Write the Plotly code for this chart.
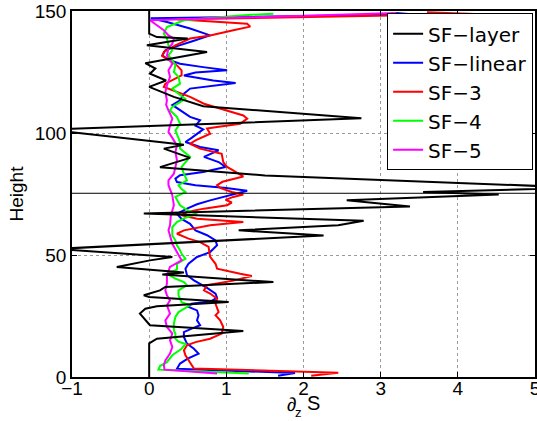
import plotly.graph_objects as go

# ---- data (x = d2S/dz2, y = Height) ----
layer_x = [0, 0, 0.1, 1.22, 0.01, -0.09, -0.12, -0.05, 0.1, 1.03, 0, -0.07, 0.14, 0.21, 1.61, 0.17, 0.45, -0.42,
           0.01, 0.3, -1.2, 2.26, 1.16, 2.45, 2.78, -0.07, 3.38, 2.56, 4.53, 3.55, 5.6, 1.5, 0.14, 0.53, 0.19, 0.45,
           -1.3, 2.75, 0.7, 0.32, 0.0, 0.22, 0.01, 0.08, -0.05, 0.75, -0.03, 0.5, 0.1, 0, 0]
layer_y = [0, 13.8, 15.7, 18.9, 21.2, 24.6, 26, 28, 29, 30.7, 32.8, 33.5, 35.5, 36.9, 38.9, 42, 42.8, 45.1,
           47.8, 49.2, 52.5, 58, 60.1, 62.2, 64, 67, 69.9, 72.4, 74.8, 75.8, 77.6, 82.6, 86, 89.8, 93.6, 95.2,
           101.4, 106, 111, 114.8, 118.9, 121.5, 124.3, 126.4, 128.6, 133.2, 136, 138.7, 139.3, 140.7, 150]

linear_x = [1.67, 1.89, 0.36, 0.4, 0.5, 0.64, 0.58, 0.49, 0.45, 0.45, 0.55, 0.66, 0.62, 0.64, 0.62, 0.51, 0.55,
            0.8, 0.88, 0.86, 0.75, 0.64, 0.58, 0.49, 0.47, 0.51, 0.62, 0.79, 0.88, 0.86, 0.75, 0.6, 0.53, 0.42,
            0.36, 0.49, 0.62, 0.79, 1.14, 1.27, 1.0, 0.6, 0.36, 0.34, 0.4, 0.7, 0.99, 0.9, 0.71, 0.9, 0.66, 0.47,
            0.55, 0.62, 0.7, 0.6, 0.66, 0.53, 0.4, 0.3, 0.4, 0.45, 0.53, 0.83, 1.12, 0.83, 0.45, 0.6, 1.01, 0.7,
            0.4, 0.25, 0.17, 0.21, 0.32, 0.55, 0.79, 0.53, 0.23, 0.02, 3.44, 3.2]
linear_y = [0.5, 1.6, 3.4, 5.5, 7.5, 9.6, 11.6, 13.7, 16.4, 18.4, 19.8, 21.2, 23.2, 25.3, 27.3, 28.7, 30,
            31, 32.5, 34.2, 36.5, 38.3, 39.6, 41.7, 44.4, 46.4, 49.2, 51.2, 54, 56, 58.1, 60.1, 62.8, 64.8,
            66.9, 69, 70.8, 72.4, 75.1, 76.3, 77.5, 78.6, 79.9, 81.3, 82.7, 84, 86.1, 88.1, 90.2, 92.9, 94.3, 96.3,
            98, 99.7, 101.5, 103, 105.2, 106.6, 109.3, 111.5, 113.4, 116.1, 118.2, 119.5, 120.5, 121.5, 123.6, 124.8, 125.7, 127,
            128.4, 130, 131.8, 133.9, 135.2, 137.5, 140, 142.8, 145.5, 147, 148.6, 149.2]

sf3_x = [2.1, 2.45, 0.58, 0.51, 0.47, 0.45, 0.49, 0.6, 0.79, 0.94, 0.96, 0.92, 0.86, 0.9, 0.88, 0.86, 0.88,
         0.79, 0.71, 0.75, 1.09, 1.33, 1.18, 0.88, 0.86, 0.79, 0.77, 0.66, 0.51, 0.36, 0.45, 0.79, 1.22, 0.62,
         0.42, 0.49, 0.71, 1.01, 1.07, 0.99, 1.09, 1.22, 1.07, 0.92, 0.88, 0.95, 1.22, 1.15, 1.01, 0.96, 0.94,
         0.66, 0.53, 0.6, 0.79, 0.75, 0.88, 1.18, 1.27, 1.22, 1.01, 0.71, 0.53, 0.36, 0.19, 0.21, 0.42, 0.42,
         0.36, 0.3, 0.17, 0.19, 0.34, 0.53, 0.79, 1.09, 1.31, 1.27, 0.66, 0.36, 4.22, 3.6]
sf3_y = [0.5, 1.7, 3.5, 6.8, 8.9, 10.9, 13, 14.3, 15.7, 17.8, 20.5, 23.2, 25.3, 26.6, 28.7, 30, 32.1,
         34.2, 35.5, 37.6, 39.5, 41.4, 42.3, 44.4, 46.4, 49.2, 53.3, 55.3, 56.7, 58.7, 60.1, 62.2, 63.5, 64.9,
         66.3, 67.6, 69, 70.4, 71.5, 72.6, 73.8, 74.8, 75.8, 77.5, 78.6, 80, 82.2, 83.5, 86.1, 88.1, 91.5,
         93.6, 95.6, 97, 99.7, 101.8, 102.5, 103.8, 105.9, 107.2, 109.3, 112, 114.8, 116.8, 118.9, 120.2, 123.6, 125.7,
         127.7, 129.1, 131.5, 133.2, 135.9, 138.7, 140, 142.1, 143.6, 144.8, 145.8, 146.6, 148.8, 149.5]

sf4_x = [1.29, 0.12, 0.14, 0.23, 0.3, 0.42, 0.47, 0.38, 0.34, 0.34, 0.32, 0.32, 0.34, 0.38, 0.53, 0.42, 0.38,
         0.38, 0.49, 0.45, 0.34, 0.23, 0.36, 0.36, 0.47, 0.42, 0.4, 0.36, 0.34, 0.3, 0.3, 0.36, 0.45, 0.62, 0.5,
         0.4, 0.34, 0.47, 0.42, 0.38, 0.49, 0.45, 0.42, 0.53, 0.4, 0.4, 0.34, 0.4, 0.36, 0.27, 0.3, 0.47, 0.38,
         0.3, 0.4, 0.38, 0.32, 0.34, 0.3, 0.25, 0.3, 0.25, 0.23, 0.19, 0.23, 0.45, 1.18, 1.61]
sf4_y = [1.4, 3.0, 4.5, 6.1, 8.9, 11.6, 13.5, 14.5, 15.7, 17.8, 19.1, 21.9, 24.6, 26.6, 29.4, 30.7, 33.5,
         35.5, 37.6, 38.9, 40.3, 42.3, 44, 46.4, 48.5, 50.5, 52, 54, 56, 58, 61.5, 63.5, 65, 66.9, 68.3,
         70.4, 73.8, 75.8, 77, 78.6, 80.6, 83.3, 86.1, 90.2, 93.6, 96.3, 101.1, 103.8, 106.6, 109.3, 110.7, 114, 116.1,
         118.2, 120.2, 123, 125, 127.7, 129.8, 131.8, 133.9, 135.9, 138.7, 140.7, 143.4, 146.2, 148.2, 148.9]

sf5_x = [0.88, 0.2, 0.19, 0.21, 0.27, 0.3, 0.27, 0.3, 0.23, 0.21, 0.27, 0.23, 0.27, 0.23, 0.21, 0.23, 0.23,
         0.27, 0.42, 0.38, 0.3, 0.27, 0.25, 0.27, 0.28, 0.32, 0.3, 0.25, 0.25, 0.32, 0.36, 0.34, 0.36, 0.3,
         0.25, 0.27, 0.3, 0.25, 0.22, 0.23, 0.21, 0.23, 0.27, 0.25, 0.3, 0.25, 0.23, 0.25, 0.3, 0.32, 0.25,
         0.19, 0.1, 0.01, 3.2]
sf5_y = [1.4, 3.0, 4.8, 6.8, 9.6, 12.3, 15, 17.8, 20.5, 23.2, 26, 29.4, 31.4, 33.5, 35.5, 38.3, 41.7,
         45.1, 47.8, 50, 54.6, 58, 60.1, 62.2, 66, 70.4, 74.5, 78.6, 80.6, 83.3, 88.8, 92.2, 94.9, 98,
         100.4, 103.1, 105.9, 109.3, 111.5, 113.4, 116.8, 119.5, 123, 125.7, 128.4, 130.5, 131.8, 134.6, 136.6, 138.7, 140,
         142.1, 144.1, 146.2, 149.2]

marker_height = 75.3
x_range = [-1, 5]
x_ticks = [-1, 0, 1, 2, 3, 4, 5]
y_ticks = [0, 50, 100, 150]

FONT = "Liberation Sans, Arial, Helvetica, sans-serif"
LEG_FONT = "DejaVu Sans, Liberation Sans, sans-serif"

fig = go.Figure()
series = [
    ("SF−linear", linear_x, linear_y, "#0000ff", 2),
    ("SF−3", sf3_x, sf3_y, "#ff0000", 3),
    ("SF−4", sf4_x, sf4_y, "#00ff00", 4),
    ("SF−5", sf5_x, sf5_y, "#ff00ff", 5),
]
for name, xs, ys, col, rank in series:
    fig.add_trace(go.Scatter(x=xs, y=ys, mode="lines", name=name, legendrank=rank,
                             line=dict(color=col, width=2)))
fig.add_trace(go.Scatter(x=layer_x, y=layer_y, mode="lines", name="SF−layer", legendrank=1,
                         line=dict(color="#000000", width=2)))
fig.add_trace(go.Scatter(x=x_range, y=[marker_height, marker_height], mode="lines", showlegend=False,
                         line=dict(color="#000000", width=1)))

axis_common = dict(showline=True, linecolor="black", linewidth=1.5, mirror="ticks", ticks="inside",
                   ticklen=5, tickcolor="black", showgrid=True, gridcolor="#9a9a9a", griddash="dot",
                   gridwidth=1, zeroline=False, automargin=False, ticklabeloverflow="allow",
                   tickfont=dict(family=FONT, size=19, color="black"))

# x-label pieces: ∂ with subscript z, then S (the superscript 2 coincides with the tick label "2")
xlabel_parts = [
    dict(text="∂", x=1.84, y=-0.0765, size=19),
    dict(text="z", x=1.93, y=-0.098, size=13),
    dict(text="S", x=2.13, y=-0.0724, size=20),
]

fig.update_layout(
    width=537, height=421,
    margin=dict(l=72, r=2, t=11, b=44),
    paper_bgcolor="white", plot_bgcolor="white",
    font=dict(family=FONT, size=19, color="black"),
    xaxis=dict(range=x_range, tickvals=x_ticks, ticklabelstandoff=-7, **axis_common),
    yaxis=dict(range=[0, 150], tickvals=y_ticks, **axis_common,
               title=dict(text="Height", font=dict(family=FONT, size=19), standoff=6)),
    legend=dict(x=0.6806, y=0.994, xanchor="left", yanchor="top", bgcolor="white",
                bordercolor="black", borderwidth=1, font=dict(family=LEG_FONT, size=20),
                tracegroupgap=0),
    showlegend=True,
    annotations=[dict(text=p["text"], x=p["x"], xref="x", y=p["y"], yref="paper",
                      xanchor="center", yanchor="middle", showarrow=False,
                      font=dict(family=FONT, size=p["size"], color="black"))
                 for p in xlabel_parts],
)

fig.write_html("out.html", config={"displayModeBar": False},
               post_script="document.body.style.margin='0';document.body.style.overflow='hidden';")
